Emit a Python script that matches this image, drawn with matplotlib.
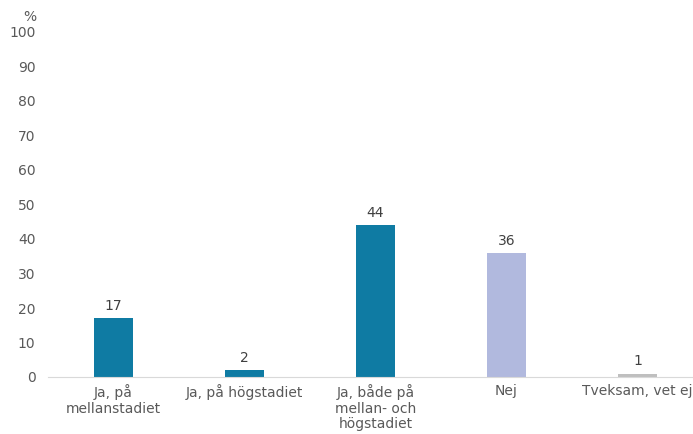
import numpy as np
import matplotlib.pyplot as plt

# svarsalternativ och andelar (%)
categories = ["Ja, på\nmellanstadiet", "Ja, på högstadiet",
              "Ja, både på\nmellan- och\nhögstadiet", "Nej", "Tveksam, vet ej"]
values = [17, 2, 44, 36, 1]
colors = ["#0F7BA3", "#0F7BA3", "#0F7BA3", "#B1B9DE", "#BFBFBF"]
yticks = [0, 10, 20, 30, 40, 50, 60, 70, 80, 90, 100]

txt = "#595959"
plt.rcParams['font.family'] = ['DejaVu Sans']

fig = plt.figure(figsize=(6.93, 4.34), dpi=100)
# axes run a bit past the right edge like the original
ax = fig.add_axes([48/693, 1 - 377/434, 655/693, (377 - 32)/434])

x = np.arange(len(categories))
ax.bar(x, values, width=0.305, color=colors)
for xi, v in zip(x, values):
    ax.text(xi, v + 1.5, str(v), ha='center', va='bottom', fontsize=10, color="#404040")

ax.set_xlim(-0.5, 4.5)
ax.set_ylim(0, 100)
ax.set_yticks(yticks)
ax.set_xticks(x)
ax.set_xticklabels(categories, fontsize=10, color=txt, linespacing=1.15)
ax.tick_params(axis='y', labelsize=10, labelcolor=txt, length=0, pad=9)
ax.tick_params(axis='x', length=0, pad=5)

for s in ['top', 'right', 'left']:
    ax.spines[s].set_visible(False)
ax.spines['bottom'].set_color('#D9D9D9')

fig.text(30/693, 1 - 17/434, "%", ha='center', va='center', fontsize=10, color=txt)

fig.savefig("out.png", dpi=100)
